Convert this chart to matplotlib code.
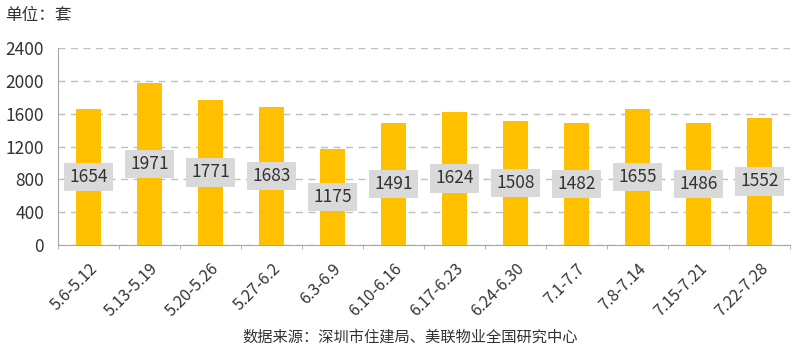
import matplotlib
matplotlib.use("Agg")
import matplotlib.pyplot as plt
import numpy as np

plt.rcParams['font.family'] = ['Noto Sans CJK SC', 'DejaVu Sans']

categories = ["5.6-5.12", "5.13-5.19", "5.20-5.26", "5.27-6.2", "6.3-6.9", "6.10-6.16",
              "6.17-6.23", "6.24-6.30", "7.1-7.7", "7.8-7.14", "7.15-7.21", "7.22-7.28"]
values = [1654, 1971, 1771, 1683, 1175, 1491, 1624, 1508, 1482, 1655, 1486, 1552]
yticks = [0, 400, 800, 1200, 1600, 2000, 2400]

fig = plt.figure(figsize=(8, 3.46), dpi=100)
ax = fig.add_axes([0.0725, 0.292, 0.915, 0.569])

x = np.arange(len(categories))
ax.bar(x, values, width=0.42, color='#FFC000', zorder=3)

for xi, v in zip(x, values):
    ax.text(xi, v / 2, str(v), ha='center', va='center', fontsize=12.5, color='#333333',
            zorder=4, bbox=dict(boxstyle='square,pad=0.3', facecolor='#D9D9D9', edgecolor='none'))

ax.set_ylim(0, 2400)
ax.set_xlim(-0.5, len(categories) - 0.5)
ax.set_yticks(yticks)
ax.set_yticklabels([str(t) for t in yticks], fontsize=12.5, color='#333333')
ax.tick_params(axis='y', length=0, pad=10)
ax.yaxis.grid(True, linestyle=(0, (5, 4)), color='#BFBFBF', linewidth=1, zorder=0)

ax.set_xticks(x)
ax.set_xticklabels(categories, rotation=45, ha='right', rotation_mode='anchor',
                   fontsize=11.5, color='#333333')
ax.tick_params(axis='x', length=0, pad=11)
ax.set_xticks(np.arange(len(categories) + 1) - 0.5, minor=True)
ax.tick_params(axis='x', which='minor', length=3, color='#A6A6A6')

for s in ['top', 'right']:
    ax.spines[s].set_visible(False)
ax.spines['left'].set_color('#A6A6A6')
ax.spines['bottom'].set_color('#A6A6A6')

fig.text(0.006, 0.955, "单位：套", fontsize=12, color='#333333', ha='left', va='center')
fig.text(0.513, 0.027, "数据来源：深圳市住建局、美联物业全国研究中心", fontsize=11,
         color='#333333', ha='center', va='center')

fig.savefig("out.png", dpi=100)
